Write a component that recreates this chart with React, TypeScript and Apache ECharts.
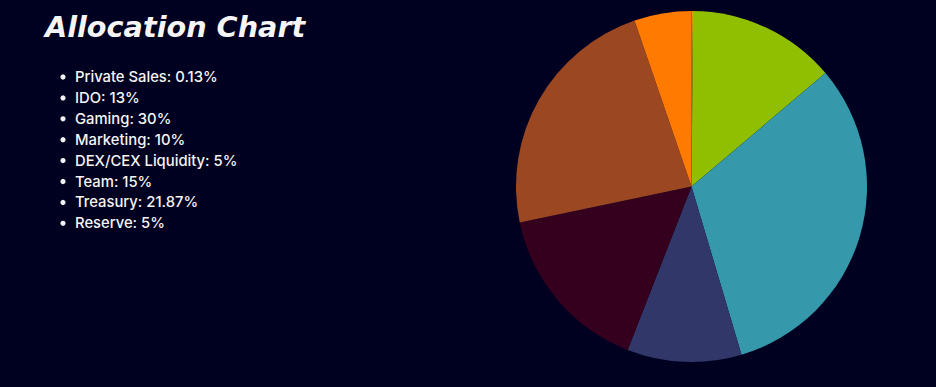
import React, { useEffect, useRef } from "react";
import * as echarts from "echarts";

const titleText = "Allocation Chart";
const categories = ["Private Sales", "IDO", "Gaming", "Marketing", "DEX/CEX Liquidity", "Team", "Treasury", "Reserve"];
const shares = [0.13, 13, 30, 10, 5, 15, 21.87, 5];
const shareLabels = ["0.13%", "13%", "30%", "10%", "5%", "15%", "21.87%", "5%"];
// slices drawn in the pie (DEX/CEX Liquidity is not drawn in the reference)
const pieCategories = ["Private Sales", "IDO", "Gaming", "Marketing", "Team", "Treasury", "Reserve"];
const pieColors = ["#d9a400", "#8fbf00", "#3599ab", "#32376a", "#35001e", "#9a4722", "#ff7a00"];

export default function App() {
  const ref = useRef<HTMLDivElement>(null);
  useEffect(() => {
    if (!ref.current) return;
    const chart = echarts.init(ref.current, null, { renderer: "svg" });
    const listItems: any[] = [];
    categories.forEach((c, i) => {
      const y = 77 + i * 20.9;
      listItems.push({
        type: "circle",
        shape: { cx: 63, cy: y, r: 2.6 },
        style: { fill: "#f4f4f4" },
      });
      listItems.push({
        type: "text",
        x: 75,
        y,
        style: {
          text: `${c}: ${shareLabels[i]}`,
          fill: "#f4f4f4",
          font: "500 14.8px Inter, sans-serif",
          textVerticalAlign: "middle",
        },
      });
    });
    chart.setOption({
      animation: false,
      backgroundColor: "#000020",
      graphic: [
        {
          type: "text",
          x: 45,
          y: 27,
          style: {
            text: titleText,
            fill: "#f5f5f5",
            font: "italic 700 28.7px 'DejaVu Sans', sans-serif",
            textVerticalAlign: "middle",
          },
        },
        ...listItems,
      ],
      series: [
        {
          type: "pie",
          center: [691.5, 186.5],
          radius: [0, 175.5],
          startAngle: 90,
          clockwise: true,
          label: { show: false },
          labelLine: { show: false },
          emphasis: { disabled: true },
          itemStyle: { borderWidth: 0 },
          data: pieCategories.map((n, i) => ({
            name: n,
            value: shares[categories.indexOf(n)],
            itemStyle: { color: pieColors[i] },
          })),
        },
      ],
    });
    return () => chart.dispose();
  }, []);
  return <div ref={ref} style={{ position: "fixed", left: 0, top: 0, width: 936, height: 387 }} />;
}
